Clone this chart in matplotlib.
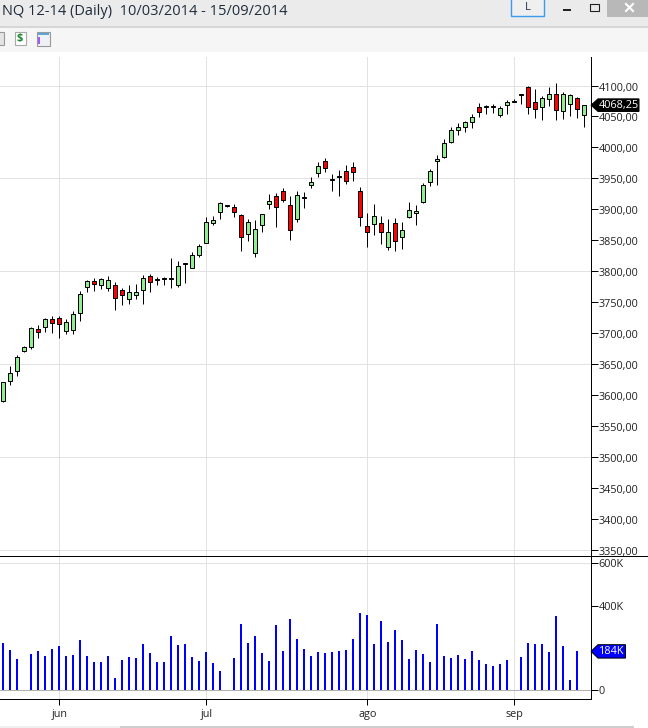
import numpy as np
import matplotlib
matplotlib.use('Agg')
import matplotlib.pyplot as plt
from matplotlib.patches import Polygon, Rectangle
from matplotlib.transforms import ScaledTranslation

# NQ 12-14 daily candles
opens = [3591.2, 3623.4, 3639.6, 3671.9, 3678.4, 3706.3, 3710.6, 3722.5, 3725.2, 3704.2, 3705.8, 3733.3,
         3775.2, 3783.8, 3777.4, 3773.6, 3777.4, 3769.3, 3755.9, 3762.3, 3770.4, 3791.9, 3785.4, 3787.0,
         3787.0, 3777.4, 3812.3, 3805.9, 3826.9, 3846.3, 3878.6, 3896.3, 3905.5, 3903.3, 3890.4, 3860.8,
         3830.2, 3875.3, 3909.2, 3921.1, 3929.1, 3906.6, 3885.0, 3917.8, 3939.9, 3959.3, 3977.6, 3946.9,
         3952.8, 3961.4, 3967.9, 3929.1, 3872.7, 3875.9, 3877.6, 3838.8, 3877.6, 3855.0, 3888.3, 3894.8,
         3912.5, 3943.7, 3978.7, 3984.1, 4009.4, 4028.7, 4032.5, 4040.6, 4064.8, 4064.8, 4064.8, 4051.8,
         4069.1, 4074.0, 4084.1, 4097.0, 4073.9, 4065.8, 4078.7, 4085.7, 4058.3, 4069.6, 4079.3, 4051.8]
highs = [3621.8, 3647.1, 3664.9, 3679.4, 3709.6, 3713.3, 3724.1, 3727.9, 3727.9, 3722.5, 3735.4, 3767.7,
         3786.0, 3788.7, 3789.2, 3792.4, 3782.2, 3772.5, 3777.4, 3779.5, 3793.5, 3795.1, 3791.3, 3790.3,
         3821.0, 3816.7, 3812.9, 3830.6, 3843.6, 3887.2, 3889.3, 3911.9, 3907.1, 3908.7, 3892.0, 3884.5,
         3882.9, 3892.0, 3924.8, 3926.5, 3934.5, 3921.6, 3929.7, 3928.1, 3951.7, 3976.0, 3982.4, 3957.1,
         3963.0, 3971.6, 3976.0, 3936.1, 3893.6, 3908.2, 3889.4, 3884.0, 3885.6, 3879.2, 3912.0, 3907.1,
         3942.7, 3964.7, 3987.8, 4013.1, 4032.5, 4039.5, 4042.2, 4053.5, 4071.8, 4068.5, 4070.2, 4066.9,
         4076.6, 4078.2, 4086.8, 4099.2, 4094.3, 4082.5, 4097.0, 4104.0, 4088.9, 4086.3, 4080.9, 4068.25]
lows = [3589.5, 3616.4, 3631.0, 3670.3, 3675.1, 3692.3, 3702.0, 3700.9, 3692.3, 3698.8, 3698.8, 3720.3,
        3766.6, 3768.7, 3771.4, 3768.7, 3737.6, 3745.6, 3747.2, 3755.3, 3747.2, 3766.6, 3777.9, 3777.9,
        3773.0, 3774.7, 3781.7, 3805.9, 3823.7, 3846.3, 3875.3, 3884.5, 3904.4, 3887.7, 3832.8, 3849.0,
        3823.2, 3863.5, 3900.6, 3871.6, 3911.9, 3850.6, 3879.7, 3902.2, 3934.5, 3952.8, 3960.9, 3929.7,
        3921.6, 3941.0, 3945.8, 3873.2, 3839.8, 3858.7, 3844.2, 3834.5, 3832.9, 3836.1, 3886.7, 3874.9,
        3910.9, 3937.8, 3939.4, 3983.5, 4007.2, 4020.1, 4025.0, 4031.4, 4049.2, 4054.0, 4055.1, 4049.1,
        4054.0, 4073.4, 4070.1, 4054.5, 4048.0, 4044.3, 4066.9, 4044.8, 4045.9, 4050.8, 4048.0, 4033.6]
closes = [3620.8, 3635.3, 3661.1, 3677.3, 3708.0, 3702.6, 3722.5, 3717.1, 3714.4, 3717.6, 3730.6, 3762.8,
          3783.8, 3780.1, 3787.0, 3785.4, 3757.5, 3762.3, 3766.1, 3766.1, 3788.7, 3782.2, 3787.0, 3788.7,
          3788.7, 3808.0, 3812.9, 3825.8, 3840.4, 3879.1, 3882.3, 3909.8, 3906.6, 3896.3, 3856.0, 3879.1,
          3867.8, 3892.0, 3913.0, 3904.4, 3915.7, 3867.3, 3922.7, 3919.5, 3943.7, 3969.5, 3966.3, 3948.5,
          3953.9, 3945.3, 3960.9, 3888.3, 3864.1, 3888.9, 3864.1, 3863.0, 3849.6, 3866.3, 3898.5, 3896.9,
          3938.9, 3961.5, 3980.9, 4006.7, 4027.6, 4032.5, 4040.6, 4048.6, 4056.7, 4066.4, 4066.4, 4063.7,
          4072.8, 4075.5, 4085.7, 4064.7, 4061.5, 4079.3, 4085.7, 4059.9, 4085.7, 4084.1, 4061.5, 4068.25]
# volumen en miles de contratos
volume = [224, 191, 148, 0, 172, 186, 162, 195, 210, 162, 167, 238, 162, 134, 134, 162, 58, 143, 158, 153, 219,
          177, 134, 134, 257, 214, 219, 158, 139, 181, 129, 91, 0, 153, 314, 224, 257, 177, 139, 309, 186, 337,
          243, 195, 162, 181, 177, 181, 186, 191, 243, 366, 356, 219, 328, 229, 285, 238, 148, 191, 172, 134,
          314, 162, 153, 167, 148, 186, 143, 125, 115, 125, 143, 0, 158, 224, 219, 219, 181, 351, 210, 49, 184, 0]

month_pos = [8, 29, 52, 73]
month_names = ['jun', 'jul', 'ago', 'sep']
price_ticks = list(range(3350, 4101, 50))
price_grid = list(range(3350, 4101, 150))
vol_ticks = [0, 400, 600]
vol_labels = ['0', '400K', '600K']
last_price = '4068,25'
last_volume = '184K'
title = 'NQ 12-14 (Daily)  10/03/2014 - 15/09/2014'

W, H = 648, 728
FONT = 'Open Sans'
GRID = '#E2E2E2'
TXT = '#222222'
LW = 0.72  # un pixel a 100 dpi
plt.rcParams['font.family'] = [FONT, 'DejaVu Sans']


def px_axes(left, top, right, bottom):
    return [left / W, 1 - bottom / H, (right - left) / W, (bottom - top) / H]


fig = plt.figure(figsize=(W / 100, H / 100), dpi=100, facecolor='white')

# ventana: barra de titulo y barra de herramientas
chrome = fig.add_axes([0, 0, 1, 1], zorder=0)
chrome.set_xlim(0, W)
chrome.set_ylim(H, 0)
chrome.axis('off')
chrome.add_patch(Rectangle((0, 0), W, 26, fc='#EBEBEB', ec='none'))
chrome.add_patch(Rectangle((0, 26), W, 1.5, fc='#D6D6D6', ec='none'))
chrome.add_patch(Rectangle((0, 27.5), W, 24.5, fc='#F6F6F6', ec='none'))
chrome.text(2, 11.5, title, fontsize=10.5, color='#1F2D3D', va='center', ha='left')
chrome.add_patch(Rectangle((510.5, -2), 33, 18, fc='#EFEFEF', ec='#3C9BEF', lw=1))
chrome.text(528, 7, 'L', fontsize=8, color='#223355', ha='center', va='center')
chrome.add_patch(Rectangle((563, 8.5), 8, 2, fc='#222222', ec='none'))
chrome.add_patch(Rectangle((589.5, 3.5), 9, 7, fc='none', ec='#222222', lw=0.8))
chrome.add_patch(Rectangle((589.5, 3.5), 9, 1.5, fc='#222222', ec='none'))
chrome.add_patch(Rectangle((607, 0), 41, 16.5, fc='#B8B8B8', ec='none'))
chrome.plot([626, 633], [4, 11], color='white', lw=1.5)
chrome.plot([626, 633], [11, 4], color='white', lw=1.5)
chrome.add_patch(Rectangle((-3, 32), 7, 13, fc='#E4E4E4', ec='#999999', lw=0.8))
chrome.add_patch(Rectangle((14.5, 32), 11, 13, fc='white', ec='#AAAAAA', lw=0.8))
chrome.text(20, 39, '$', fontsize=8, fontweight='bold', color='#1E8C2E', ha='center', va='center')
chrome.add_patch(Rectangle((36.5, 31.5), 13, 14, fc='#EEF0F6', ec='#999999', lw=0.8))
chrome.add_patch(Rectangle((37.5, 32.5), 11, 2, fc='#5BA5D8', ec='none'))
chrome.add_patch(Rectangle((38, 37), 2, 7, fc='#A05CF0', ec='none'))
# barra de desplazamiento abajo
chrome.add_patch(Rectangle((0, 726), 120, 2, fc='#EFEFEF', ec='none'))
chrome.add_patch(Rectangle((120, 726), 514, 2, fc='#CFCFCF', ec='none'))

# precio
ax = fig.add_axes(px_axes(0, 57, 590.5, 556.3), zorder=2)
ax_vol = fig.add_axes(px_axes(0, 556.3, 590.5, 699), zorder=2, sharex=ax)
x = np.arange(len(closes))
ax.set_xlim(-3.33 / 7, (590.5 - 3.33) / 7)
ax.set_ylim(4100 - 470.8 * 1.6145, 4100 + 28.5 * 1.6145)
ax_vol.set_ylim(-41.1, 633.6)

opens = np.array(opens)
closes = np.array(closes)
bottoms = np.minimum(opens, closes)
heights = np.abs(closes - opens)
colors = ['#FF0000' if c < o else '#90EE90' for o, c in zip(opens, closes)]

for a in (ax, ax_vol):
    for m in month_pos:
        a.axvline(m, color=GRID, lw=LW, zorder=1)
    a.set_facecolor('none')
    a.spines['top'].set_visible(False)
    a.spines['left'].set_visible(False)
    a.spines['right'].set_linewidth(LW)
    a.yaxis.tick_right()
for p in price_grid:
    ax.axhline(p, color=GRID, lw=LW, zorder=1)

ax.vlines(x, lows, highs, color='black', lw=LW, zorder=3)
ax.bar(x, heights, bottom=bottoms, width=4 / 7, color=colors, edgecolor='black', linewidth=LW, zorder=4)

ax.set_yticks(price_ticks)
ax.set_yticklabels([f'{p},00' for p in price_ticks])
ax.tick_params(axis='y', length=5, width=LW, pad=1, labelsize=7.8, labelcolor=TXT)
ax.tick_params(axis='x', length=0, labelbottom=False)
ax.spines['bottom'].set_visible(False)
# las etiquetas quedan un pixel mas abajo en el original
down = ScaledTranslation(0, -1 / 100, fig.dpi_scale_trans)
for lab in ax.get_yticklabels():
    lab.set_transform(lab.get_transform() + down)

# volumen
ax_vol.axhline(600, color=GRID, lw=LW, zorder=1)
ax_vol.axhline(0, color='#B0B0B0', lw=LW, zorder=1)
ax_vol.bar(x, volume, width=2 / 7, color='#0000FF', zorder=3)
ax_vol.set_yticks(vol_ticks)
ax_vol.set_yticklabels(vol_labels)
ax_vol.tick_params(axis='y', length=5, width=LW, pad=1, labelsize=7.8, labelcolor=TXT)
ax_vol.set_xticks(month_pos)
ax_vol.set_xticklabels(month_names)
ax_vol.tick_params(axis='x', length=4.5, width=LW, pad=3, labelsize=7.8, labelcolor=TXT)
ax_vol.spines['bottom'].set_linewidth(LW)

# capa superior: separador y etiquetas de ultimo valor
top = fig.add_axes([0, 0, 1, 1], zorder=5)
top.set_xlim(0, W)
top.set_ylim(H, 0)
top.axis('off')
top.patch.set_alpha(0)
top.plot([0, W], [556.3, 556.3], color='black', lw=LW)


def value_tag(axis, value, text, right, half, fc, ec, tc):
    y = H - axis.transData.transform((0, value))[1]
    pts = [(591, y), (598, y - half), (right, y - half), (right, y + half), (598, y + half)]
    top.add_patch(Polygon(pts, closed=True, fc=fc, ec=ec, lw=LW))
    top.text(599, y, text, color=tc, fontsize=7.8, va='center', ha='left')


value_tag(ax, closes[-1], last_price, 639, 6.3, 'black', 'black', 'white')
value_tag(ax_vol, volume[-2], last_volume, 625.5, 6.7, '#0000FF', 'black', 'white')

fig.savefig('out.png', dpi=100)
